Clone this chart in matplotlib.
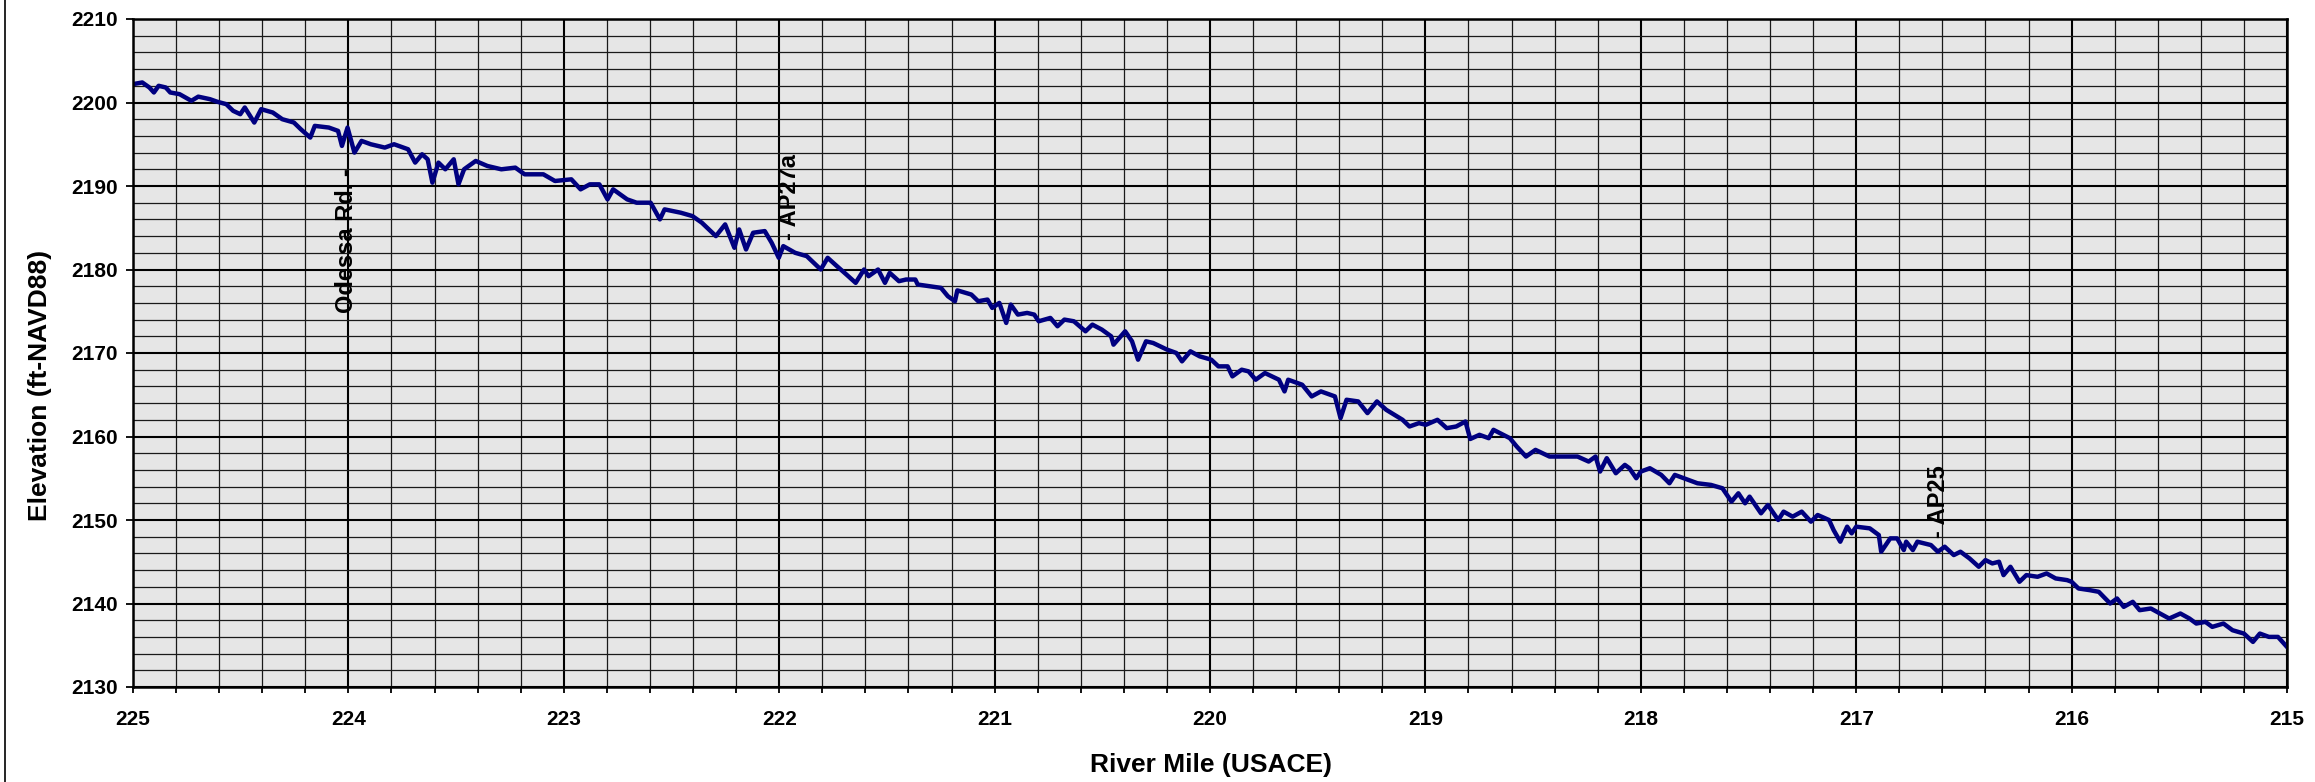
"""
Longitudinal thalweg profile, River Mile 225 to 215 (USACE).
Values read off the reference chart.
"""

import matplotlib
matplotlib.use("Agg")
import matplotlib.pyplot as plt
from matplotlib.ticker import MultipleLocator
from matplotlib.lines import Line2D

plt.rcParams.update({
    "font.family": ["Liberation Sans", "DejaVu Sans"],
    "font.size": 15,
})

# ── Data ─────────────────────────────────────────────────────────────────────
RIVER_MILE = [
    225.000, 224.957, 224.924, 224.903, 224.881, 224.848, 224.827, 224.784,
    224.729, 224.697, 224.643, 224.610, 224.567, 224.535, 224.502, 224.481,
    224.437, 224.405, 224.351, 224.307, 224.253, 224.221, 224.177, 224.156,
    224.091, 224.048, 224.030, 224.004, 223.972, 223.939, 223.896, 223.831,
    223.788, 223.723, 223.690, 223.658, 223.632, 223.610, 223.582, 223.550,
    223.511, 223.489, 223.463, 223.409, 223.355, 223.290, 223.225, 223.182,
    223.095, 223.041, 222.965, 222.922, 222.879, 222.835, 222.797, 222.771,
    222.706, 222.662, 222.597, 222.554, 222.532, 222.457, 222.403, 222.359,
    222.294, 222.251, 222.208, 222.186, 222.154, 222.121, 222.067, 222.035,
    222.002, 221.981, 221.926, 221.872, 221.807, 221.775, 221.732, 221.688,
    221.645, 221.606,
    221.585, 221.541, 221.509, 221.487, 221.444, 221.411, 221.368, 221.357,
    221.303, 221.249, 221.217, 221.184, 221.173, 221.108, 221.076, 221.033,
    221.011, 220.978, 220.946, 220.925, 220.892, 220.849, 220.816, 220.795,
    220.741, 220.708, 220.676, 220.632, 220.578, 220.546, 220.502, 220.459,
    220.448, 220.394, 220.362, 220.334, 220.297, 220.264, 220.199, 220.156,
    220.130, 220.091, 220.048, 219.994, 219.961, 219.918, 219.896, 219.853,
    219.821, 219.788, 219.745, 219.680, 219.654, 219.637, 219.572, 219.528,
    219.485, 219.420, 219.394, 219.366, 219.312, 219.269, 219.225, 219.182,
    219.106, 219.074, 219.030, 218.998, 218.944, 218.901, 218.857, 218.814,
    218.792, 218.749, 218.706, 218.684, 218.608, 218.576, 218.533, 218.489,
    218.424, 218.359, 218.294,
    218.242, 218.210, 218.189, 218.158, 218.116, 218.074, 218.053, 218.021,
    218.000, 217.958, 217.905, 217.867, 217.842, 217.800, 217.737, 217.674,
    217.621, 217.579, 217.547, 217.516, 217.495, 217.442, 217.410, 217.362,
    217.337, 217.295, 217.253, 217.210, 217.179, 217.126, 217.105, 217.074,
    217.042, 217.021, 217.000, 216.937, 216.895, 216.884, 216.842, 216.810,
    216.779, 216.768, 216.737, 216.716, 216.653, 216.621, 216.589, 216.547,
    216.516, 216.474, 216.431, 216.400, 216.368, 216.337, 216.316, 216.284,
    216.242, 216.210, 216.158, 216.116, 216.074, 216.021, 216.000, 215.968,
    215.916, 215.874, 215.821, 215.789, 215.758, 215.716, 215.684, 215.632,
    215.590, 215.547, 215.495, 215.453, 215.421, 215.379, 215.347, 215.295,
    215.253, 215.200, 215.158, 215.126, 215.084, 215.042, 215.000,
]

ELEVATION = [
    2202.2, 2202.4, 2201.8, 2201.2, 2202.0, 2201.8, 2201.2, 2201.0,
    2200.2, 2200.7, 2200.4, 2200.1, 2199.8, 2199.0, 2198.6, 2199.4,
    2197.6, 2199.2, 2198.8, 2198.0, 2197.6, 2196.8, 2195.8, 2197.2,
    2197.0, 2196.6, 2194.8, 2197.0, 2194.0, 2195.4, 2195.0, 2194.6,
    2195.0, 2194.4, 2192.8, 2193.8, 2193.2, 2190.4, 2192.8, 2192.0,
    2193.2, 2190.2, 2192.0, 2193.0, 2192.4, 2192.0, 2192.2, 2191.4,
    2191.4, 2190.6, 2190.8, 2189.6, 2190.2, 2190.2, 2188.4, 2189.6,
    2188.4, 2188.0, 2188.0, 2186.0, 2187.2, 2186.8, 2186.4, 2185.6,
    2184.0, 2185.4, 2182.6, 2184.8, 2182.4, 2184.4, 2184.6, 2183.2,
    2181.4, 2182.8, 2182.0, 2181.6, 2180.0, 2181.4, 2180.4, 2179.4,
    2178.4, 2180.0,
    2179.2, 2180.0, 2178.4, 2179.6, 2178.6, 2178.8, 2178.8, 2178.2,
    2178.0, 2177.8, 2176.8, 2176.2, 2177.5, 2177.0, 2176.2, 2176.4,
    2175.4, 2176.0, 2173.6, 2175.8, 2174.6, 2174.8, 2174.6, 2173.8,
    2174.2, 2173.2, 2174.0, 2173.8, 2172.6, 2173.4, 2172.8, 2172.0,
    2171.0, 2172.6, 2171.4, 2169.2, 2171.4, 2171.2, 2170.4, 2170.0,
    2169.0, 2170.2, 2169.6, 2169.2, 2168.4, 2168.4, 2167.2, 2168.0,
    2167.8, 2166.8, 2167.6, 2166.8, 2165.4, 2166.8, 2166.2, 2164.8,
    2165.4, 2164.8, 2162.2, 2164.4, 2164.2, 2162.8, 2164.2, 2163.2,
    2162.0, 2161.2, 2161.6, 2161.4, 2162.0, 2161.0, 2161.2, 2161.8,
    2159.7, 2160.2, 2159.8, 2160.8, 2159.8, 2158.8, 2157.6, 2158.4,
    2157.6, 2157.6, 2157.6,
    2157.0, 2157.6, 2155.8, 2157.4, 2155.6, 2156.6, 2156.2, 2155.0,
    2155.8, 2156.2, 2155.4, 2154.4, 2155.4, 2155.0, 2154.4, 2154.2,
    2153.8, 2152.2, 2153.2, 2152.0, 2152.8, 2150.8, 2151.8, 2150.0,
    2151.0, 2150.4, 2151.0, 2149.8, 2150.6, 2150.0, 2148.8, 2147.4,
    2149.2, 2148.4, 2149.2, 2149.0, 2148.2, 2146.2, 2147.8, 2147.8,
    2146.4, 2147.4, 2146.4, 2147.4, 2147.0, 2146.2, 2146.8, 2145.8,
    2146.2, 2145.4, 2144.4, 2145.2, 2144.8, 2145.0, 2143.4, 2144.4,
    2142.6, 2143.4, 2143.2, 2143.6, 2143.0, 2142.8, 2142.6, 2141.8,
    2141.6, 2141.4, 2140.0, 2140.6, 2139.6, 2140.2, 2139.2, 2139.4,
    2138.8, 2138.2, 2138.8, 2138.2, 2137.6, 2137.8, 2137.2, 2137.6,
    2136.8, 2136.4, 2135.4, 2136.4, 2136.0, 2136.0, 2134.8,
]

# landmark labels: text, river mile, elevation of the label anchor
LANDMARK_TEXT = ["Odessa Rd. -", "- AP27a", "- AP25"]
LANDMARK_MILE = [224.01, 221.95, 216.62]
LANDMARK_ELEV = [2192.2, 2183.5, 2147.8]
LANDMARK_VA = ["top", "bottom", "bottom"]

X_TICKS = list(range(225, 214, -1))
X_TICK_LABELS = [str(t) for t in X_TICKS]
Y_TICKS = list(range(2130, 2211, 10))

NAVY = "#000080"

# ── Figure ───────────────────────────────────────────────────────────────────
W, H = 2315, 782
fig = plt.figure(figsize=(W / 100, H / 100), dpi=100)
ax = fig.add_axes([133 / W, 1 - 687 / H, (2287 - 133) / W, (687 - 19) / H])

ax.set_facecolor("#e6e6e6")
ax.set_xlim(225, 215)
ax.set_ylim(2130, 2210)

ax.xaxis.set_major_locator(MultipleLocator(1))
ax.xaxis.set_minor_locator(MultipleLocator(0.2))
ax.yaxis.set_major_locator(MultipleLocator(10))
ax.yaxis.set_minor_locator(MultipleLocator(2))

ax.grid(which="major", color="black", linewidth=1.5, zorder=1)
ax.grid(which="minor", color="#1a1a1a", linewidth=0.9, zorder=1)
ax.set_axisbelow(True)

ax.plot(RIVER_MILE, ELEVATION, color=NAVY, linewidth=3.2, zorder=3,
        solid_joinstyle="round")

for txt, m, e, va in zip(LANDMARK_TEXT, LANDMARK_MILE, LANDMARK_ELEV, LANDMARK_VA):
    ax.text(m, e, txt, rotation=90, ha="center", va=va, fontsize=17,
            fontweight="bold", color="black", zorder=4)

ax.set_xticks(X_TICKS)
ax.set_xticklabels(X_TICK_LABELS)
ax.set_yticks(Y_TICKS)
ax.tick_params(axis="x", which="major", direction="out", length=4.5, width=1.3,
               pad=12, labelsize=15)
ax.tick_params(axis="x", which="minor", direction="out", length=4.5, width=1.3)
ax.tick_params(axis="y", which="major", direction="out", length=5, width=1.3,
               pad=6, labelsize=15)
ax.tick_params(axis="y", which="minor", length=0)
for lab in ax.get_xticklabels() + ax.get_yticklabels():
    lab.set_fontweight("bold")

for s in ax.spines.values():
    s.set_linewidth(1.8)
    s.set_color("black")
    s.set_zorder(5)

fig.text(1211 / W, 10 / H, "River Mile (USACE)", ha="center", va="baseline",
         fontsize=19, fontweight="bold")
fig.text(40 / W, 1 - 385 / H, "Elevation (ft-NAVD88)", ha="center", va="center",
         rotation=90, fontsize=19, fontweight="bold")

# chart area border (left edge only visible)
fig.add_artist(Line2D([5 / W, 5 / W], [0, 1], transform=fig.transFigure,
                      color="black", linewidth=1.2))

fig.savefig("out.png", dpi=100)
